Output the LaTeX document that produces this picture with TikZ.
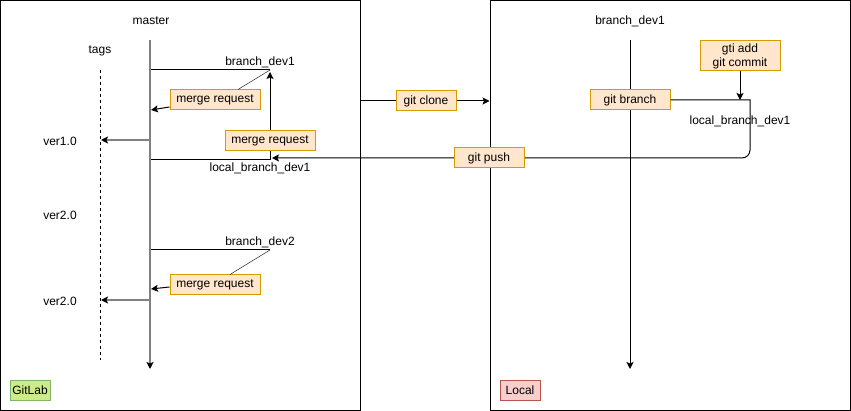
\documentclass[tikz,border=0pt]{standalone}
\usepackage{fontspec}
\setmainfont{Liberation Sans}
\usetikzlibrary{arrows.meta,positioning,calc}
\definecolor{cmdfill}{HTML}{FFE6CC}
\definecolor{cmdline}{HTML}{D79B00}
\definecolor{labfill}{HTML}{CDEB8B}
\definecolor{labline}{HTML}{82B366}
\definecolor{locfill}{HTML}{F8CECC}
\definecolor{locline}{HTML}{B85450}

\begin{document}
\begin{tikzpicture}[
                x=1pt, y=-1pt,
                font=\fontsize{12}{14}\selectfont,
                frame/.style={rectangle, draw=black, line width=1pt, minimum width=360pt, minimum height=410pt, inner sep=0pt},
                cmd/.style={rectangle, draw=cmdline, fill=cmdfill, line width=1pt, minimum width=#1, minimum height=20pt, inner sep=0pt, align=center},
                cmd/.default=90pt,
                repo/.style={rectangle, line width=1pt, minimum width=40pt, minimum height=20pt, inner sep=0pt},
                ln/.style={line width=1pt},
                arr/.style={-{Stealth[length=7pt, width=7pt, inset=1.5pt]}, line width=1pt},
                trunk/.style={-{Stealth[length=7pt, width=7pt, inset=1.5pt, color=black]}, line width=2pt, draw=black!50},
            ]
            \useasboundingbox (0,0) rectangle (851,411);
            \node[frame] (gitlab) at (180.5,205.5) {};
            \node[frame] (local) at (670,205.5) {};
            \node[repo, fill=labfill, draw=labline] (gl) at (30,390) {GitLab};
            \node[repo, fill=locfill, draw=locline] (lc) at (520,390) {Local};

            % master with tags
            \node (master) at (151,21) {master};
            \node (tags) at (100,51) {tags};
            \coordinate (mtop) at (150,40);
            \coordinate (mend) at (150,369);
            \coordinate (ttop) at (100,70);
            \coordinate (tend) at (100,360);
            \draw[trunk] (mtop) -- (mend);
            \draw[ln, dash pattern=on 3pt off 3pt] (ttop) -- (tend);
            \node (v1) at (60,141) {ver1.0};
            \node (v2) at (60,215) {ver2.0};
            \node (v3) at (60,301) {ver2.0};
            \coordinate (t1) at (150,140);
            \coordinate (t3) at (150,300);
            \draw[trunk] (t1) -- ($(t1 -| ttop)+(1,0)$);
            \draw[trunk] (t3) -- ($(t3 -| ttop)+(1,0)$);

            % branch_dev1
            \coordinate (b1) at (270,70);
            \node (b1lbl) at (260,62) {branch\_dev1};
            \draw[ln] ($(b1 -| mtop)+(1,0)$) -- (b1);
            \node[cmd] (mr1) at (215,100) {merge request};
            \draw (b1) -- ($(mr1.north)+(23,0)$);
            \draw[arr] ($(mr1.west)+(0,7)$) -- ($(mr1.west -| mtop)+(1,10)$);
            \coordinate (l1) at (270,160);
            \node (l1lbl) at (260,168) {local\_branch\_dev1};
            \draw[ln] ($(l1 -| mtop)+(1,0)$) -- (l1);
            \draw[arr] (l1) -- ($(b1)+(0,2)$);
            \node[cmd] (mr2) at (270,141) {merge request};

            % branch_dev2
            \coordinate (b2) at (270,250);
            \node (b2lbl) at (260,242) {branch\_dev2};
            \draw[ln] ($(b2 -| mtop)+(1,0)$) -- (b2);
            \node[cmd] (mr3) at (215,285) {merge request};
            \draw (b2) -- ($(mr3.north)+(15,0)$);
            \draw[arr] ($(mr3.west)+(0,2)$) -- ($(mr3.west -| mtop)+(1,4)$);

            % clone
            \coordinate (cl) at (426,101);
            \draw[arr] (gitlab.east |- cl) -- (local.west |- cl);
            \node[cmd=60pt] (clone) at (cl) {git clone};

            % local side
            \node (dev1) at (630,21) {branch\_dev1};
            \coordinate (dtop) at (630,40);
            \coordinate (dend) at (630,369);
            \draw[arr] (dtop) -- (dend);
            \node[cmd=80pt] (gb) at (630,100) {git branch};
            \node[cmd=80pt, minimum height=30pt] (ga) at (740,56) {gti add\\git commit};
            \node (l2lbl) at (740,121) {local\_branch\_dev1};
            \coordinate (bend) at (750,100);
            \coordinate (ps) at (489,158);
            \draw[arr] (ga.south) -- (ga.south |- gb);
            \draw[arr] (gb.east) -- (bend) [rounded corners=8pt] -- (bend |- ps) -- ($(l1)+(2,-2)$);
            \node[cmd=70pt] (push) at (ps) {git push};
        \end{tikzpicture}
\end{document}
